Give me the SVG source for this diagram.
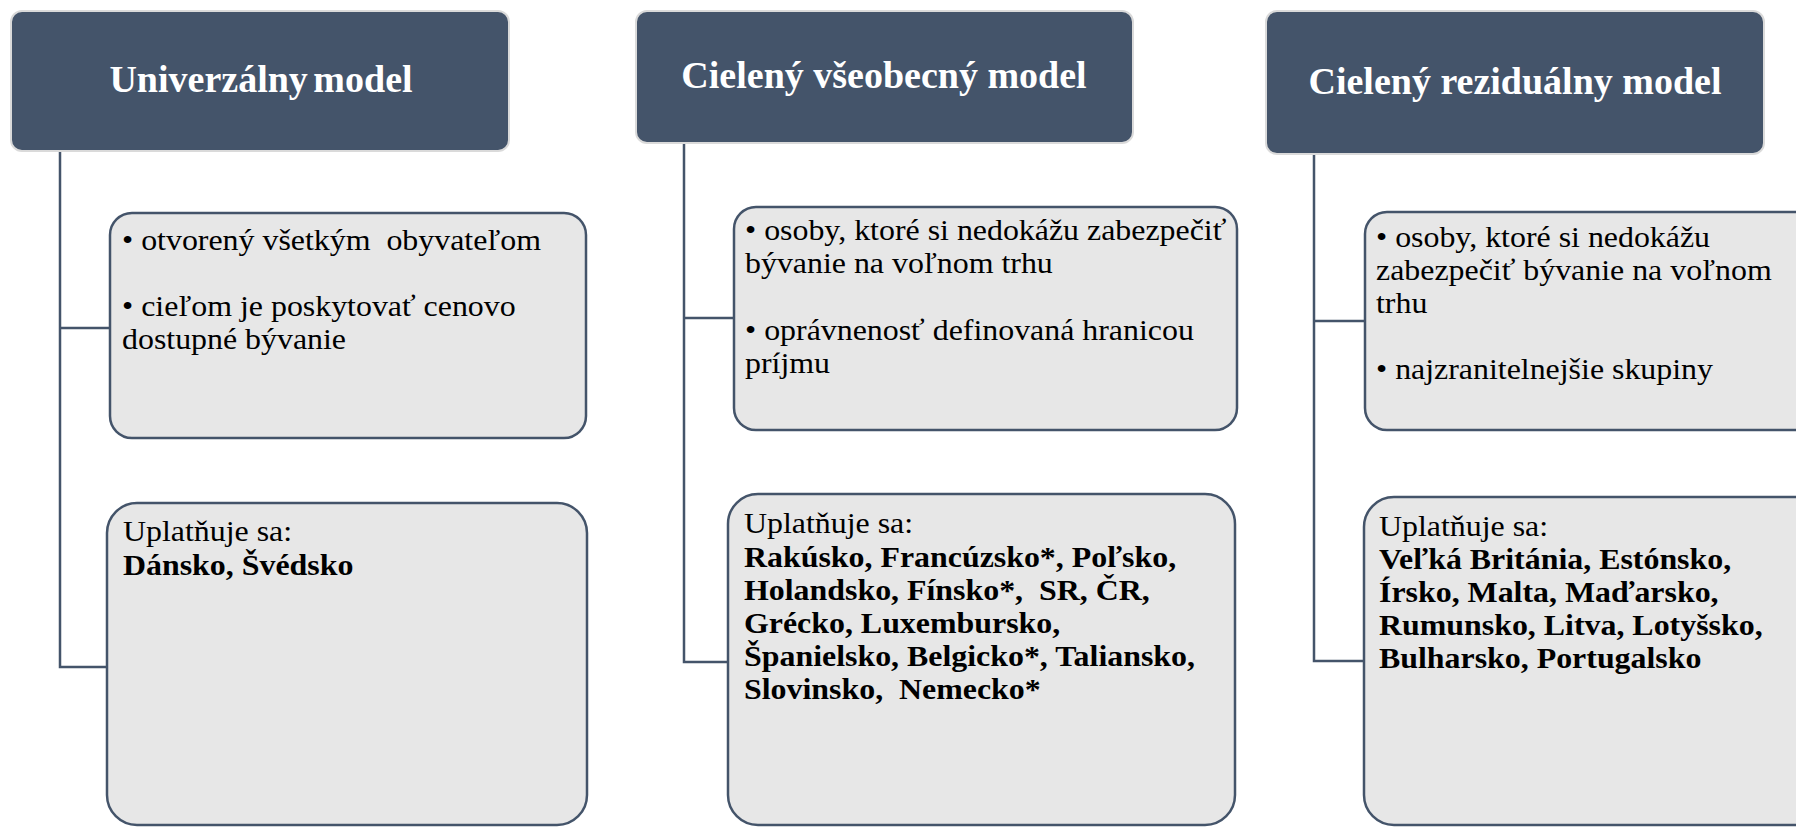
<svg xmlns="http://www.w3.org/2000/svg" width="1796" height="827" viewBox="0 0 1796 827">
<style>
.hdr{fill:#44546A;stroke:#DADADA;stroke-width:2}
.box{fill:#E7E7E7;stroke:#44546A;stroke-width:2.5}
.con{fill:none;stroke:#44546A;stroke-width:2.5}
.ht{font-family:"Liberation Serif","Times New Roman",serif;font-weight:bold;font-size:38px;fill:#FFFFFF;text-anchor:middle}
.bt{font-family:"Liberation Serif","Times New Roman",serif;font-size:29px;fill:#000000;white-space:pre}
.b{font-weight:bold}
</style>
<rect width="1796" height="827" fill="#FFFFFF"/>
<g id="connectors">
<path class="con" d="M60,151 V667 H107 M60,328 H110"/>
<path class="con" d="M684,143 V662 H728 M684,318 H734"/>
<path class="con" d="M1314,154 V661 H1364 M1314,321 H1365"/>
</g>
<g id="header-univerzalny">
<rect class="hdr" x="11" y="11" width="498" height="140" rx="11"/>
<text class="ht" x="261" y="92" word-spacing="-4">Univerzálny model</text>
</g>
<g id="univerzalny-popis">
<rect class="box" x="110" y="213" width="476" height="225" rx="22"/>
<text class="bt" transform="translate(122 0) scale(1.1 1)"><tspan x="0" y="250">• otvorený všetkým  obyvateľom</tspan><tspan x="0" y="316">• cieľom je poskytovať cenovo</tspan><tspan x="0" y="349">dostupné bývanie</tspan></text>
</g>
<g id="univerzalny-krajiny">
<rect class="box" x="107" y="503" width="480" height="322" rx="30"/>
<text class="bt" transform="translate(123 0) scale(1.1 1)"><tspan x="0" y="541">Uplatňuje sa:</tspan><tspan class="b" x="0" y="575">Dánsko, Švédsko</tspan></text>
</g>
<g id="header-vseobecny">
<rect class="hdr" x="636" y="11" width="497" height="132" rx="11"/>
<text class="ht" x="884" y="88">Cielený všeobecný model</text>
</g>
<g id="vseobecny-popis">
<rect class="box" x="734" y="207" width="503" height="223" rx="22"/>
<text class="bt" transform="translate(745 0) scale(1.1 1)"><tspan x="0" y="240">• osoby, ktoré si nedokážu zabezpečiť</tspan><tspan x="0" y="273">bývanie na voľnom trhu</tspan><tspan x="0" y="340">• oprávnenosť definovaná hranicou</tspan><tspan x="0" y="373">príjmu</tspan></text>
</g>
<g id="vseobecny-krajiny">
<rect class="box" x="728" y="494" width="507" height="331" rx="30"/>
<text class="bt" transform="translate(744 0) scale(1.1 1)"><tspan x="0" y="533">Uplatňuje sa:</tspan><tspan class="b" x="0" y="567">Rakúsko, Francúzsko*, Poľsko,</tspan><tspan class="b" x="0" y="600">Holandsko, Fínsko*,  SR, ČR,</tspan><tspan class="b" x="0" y="633">Grécko, Luxembursko,</tspan><tspan class="b" x="0" y="666">Španielsko, Belgicko*, Taliansko,</tspan><tspan class="b" x="0" y="699">Slovinsko,  Nemecko*</tspan></text>
</g>
<g id="header-rezidualny">
<rect class="hdr" x="1266" y="11" width="498" height="143" rx="11"/>
<text class="ht" x="1515" y="94">Cielený reziduálny model</text>
</g>
<g id="rezidualny-popis">
<rect class="box" x="1365" y="212" width="460" height="218" rx="22"/>
<text class="bt" transform="translate(1376 0) scale(1.1 1)"><tspan x="0" y="247">• osoby, ktoré si nedokážu</tspan><tspan x="0" y="280">zabezpečiť bývanie na voľnom</tspan><tspan x="0" y="313">trhu</tspan><tspan x="0" y="379">• najzranitelnejšie skupiny</tspan></text>
</g>
<g id="rezidualny-krajiny">
<rect class="box" x="1364" y="497" width="460" height="328" rx="30"/>
<text class="bt" transform="translate(1379 0) scale(1.1 1)"><tspan x="0" y="536">Uplatňuje sa:</tspan><tspan class="b" x="0" y="569">Veľká Británia, Estónsko,</tspan><tspan class="b" x="0" y="602">Írsko, Malta, Maďarsko,</tspan><tspan class="b" x="0" y="635">Rumunsko, Litva, Lotyšsko,</tspan><tspan class="b" x="0" y="668">Bulharsko, Portugalsko</tspan></text>
</g>
</svg>
